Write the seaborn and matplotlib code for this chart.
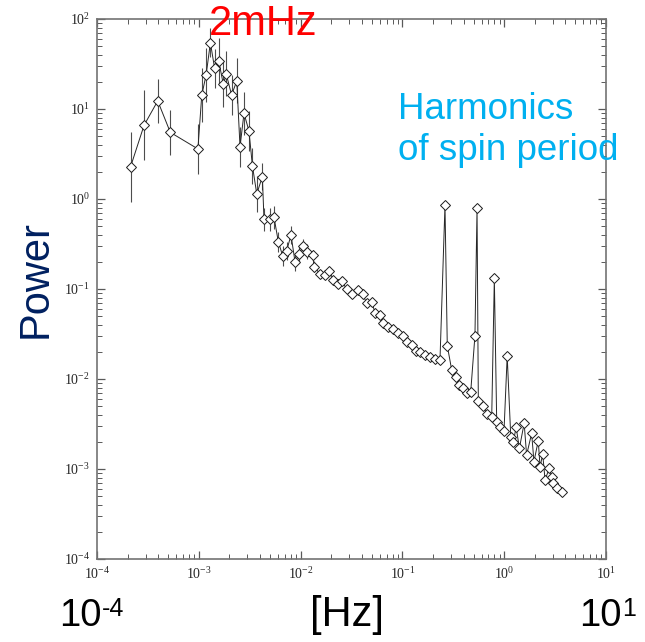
import numpy as np
import pandas as pd
import matplotlib

matplotlib.use("Agg")
import matplotlib.pyplot as plt
import seaborn as sns

# Power spectrum (frequency in Hz)
freq = [
    2.14e-4, 2.90e-4, 3.95e-4, 5.25e-4, 9.8e-4, 1.07e-3, 1.18e-3, 1.30e-3,
    1.43e-3, 1.57e-3, 1.74e-3, 1.86e-3, 2.10e-3, 2.36e-3, 2.54e-3, 2.78e-3,
    3.11e-3, 3.36e-3, 3.71e-3, 4.21e-3, 4.37e-3, 5.00e-3, 5.48e-3, 6.04e-3,
    6.67e-3, 7.30e-3, 8.05e-3, 8.81e-3, 9.70e-3, 1.06e-2, 1.16e-2, 1.31e-2,
    1.36e-2, 1.55e-2, 1.74e-2, 1.90e-2, 2.10e-2, 2.31e-2, 2.53e-2, 2.84e-2,
    3.18e-2, 3.64e-2, 4.07e-2, 4.46e-2, 4.99e-2, 5.38e-2, 6.03e-2, 6.49e-2,
    7.26e-2, 8.14e-2, 9.12e-2, 0.101, 0.110, 0.123, 0.135, 0.149,
    0.167, 0.187, 0.209, 0.234, 0.262, 0.276, 0.305, 0.336,
    0.362, 0.397, 0.434, 0.469, 0.516, 0.541, 0.557, 0.624,
    0.673, 0.754, 0.800, 0.844, 0.910, 0.996, 1.07, 1.16,
    1.23, 1.31, 1.41, 1.57, 1.66, 1.86, 1.96, 2.16,
    2.25, 2.39, 2.52, 2.77, 2.93, 3.04, 3.28, 3.67,
]
power = [
    2.29, 6.6, 12.3, 5.5, 3.6, 14.3, 23.9, 54.6,
    28.3, 34.2, 18.8, 24.5, 14.3, 20.5, 3.8, 8.96,
    5.7, 2.35, 1.14, 1.77, 0.594, 0.594, 0.626, 0.336,
    0.233, 0.267, 0.398, 0.201, 0.245, 0.301, 0.260, 0.239,
    0.177, 0.147, 0.143, 0.160, 0.126, 0.114, 0.124, 0.0993,
    0.0880, 0.0975, 0.0880, 0.0693, 0.0722, 0.0546, 0.0514, 0.0416,
    0.0375, 0.0356, 0.0322, 0.0301, 0.0260, 0.0239, 0.0206, 0.0201,
    0.0185, 0.0174, 0.0166, 0.0163, 0.858, 0.0234, 0.0126, 0.0106,
    0.00858, 0.00788, 0.00694, 0.00723, 0.0303, 0.789, 0.00574, 0.00501,
    0.00409, 0.00381, 0.131, 0.00336, 0.00291, 0.00267, 0.0180, 0.00229,
    0.00201, 0.00291, 0.00170, 0.00322, 0.00143, 0.00249, 0.00121, 0.00206,
    0.00106, 0.00146, 0.000755, 0.00102, 0.000820, 0.000693, 0.000611, 0.000560,
]
# error bar half widths (dex) for the low frequency points
err_dex = [
    0.39, 0.39, 0.24, 0.25, 0.28, 0.30, 0.30, 0.16,
    0.22, 0.25, 0.25, 0.25, 0.22, 0.25, 0.22, 0.24,
    0.22, 0.20, 0.20, 0.15, 0.13, 0.13, 0.13, 0.11,
    0.11, 0.10, 0.10, 0.10, 0.08, 0.08, 0.08, 0.06, 0.06,
]

df = pd.DataFrame({"freq": freq, "power": power})

sns.set_style("ticks")
plt.rcParams["font.family"] = ["Liberation Serif", "DejaVu Serif"]
plt.rcParams["mathtext.fontset"] = "custom"
plt.rcParams["mathtext.rm"] = "Liberation Serif"
plt.rcParams["xtick.direction"] = "in"
plt.rcParams["ytick.direction"] = "in"

fig = plt.figure(figsize=(6.45, 6.42), dpi=100)
ax = fig.add_axes([97 / 645, 1 - 559 / 642, 509 / 645, 540 / 642])
ax.set(xscale="log", yscale="log")

n = len(err_dex)
f_err = np.array(freq[:n])
p_err = np.array(power[:n])
d = np.array(err_dex)
ax.vlines(f_err, p_err * 10 ** (-d), p_err * 10 ** d, color="0.3", lw=0.8, zorder=2)

sns.lineplot(
    data=df,
    x="freq",
    y="power",
    ax=ax,
    sort=False,
    color="0.15",
    lw=0.7,
    marker="D",
    markersize=5.3,
    markerfacecolor="white",
    markeredgecolor="0.1",
    markeredgewidth=0.7,
    zorder=3,
)

ax.set_xlim(1e-4, 1e1)
ax.set_ylim(1e-4, 1e2)
ax.set_xlabel("")
ax.set_ylabel("")
ax.tick_params(which="both", top=True, right=True, labelsize=10, color="0.35")
ax.tick_params(which="major", length=6, width=0.9, pad=5)
ax.tick_params(which="minor", length=3.5, width=0.7)
for s in ax.spines.values():
    s.set_color("0.45")
    s.set_linewidth(1.2)

sans = ["Liberation Sans", "DejaVu Sans"]
fig.text(36 / 645, 1 - 279 / 642, "Power", rotation=90, ha="center", va="center",
         fontsize=30, color="#002060", family=sans)
fig.text(347 / 645, 1 - 615 / 642, "[Hz]", ha="center", va="center",
         fontsize=30, color="black", family=sans)
# big axis end labels, written as base plus raised exponent
fig.text(59 / 645, 1 - 634 / 642, "10", ha="left", va="bottom",
         fontsize=27.5, color="black", family=sans)
fig.text(102 / 645, 1 - 616 / 642, "-4", ha="left", va="baseline",
         fontsize=18, color="black", family=sans)
fig.text(579 / 645, 1 - 634 / 642, "10", ha="left", va="bottom",
         fontsize=27.5, color="black", family=sans)
fig.text(622 / 645, 1 - 616 / 642, "1", ha="left", va="baseline",
         fontsize=18, color="black", family=sans)
fig.text(263 / 645, 1 - 24 / 642, "2mHz", ha="center", va="center",
         fontsize=30, color="#ff0000", family=sans)
fig.text(398 / 645, 1 - 130 / 642, "Harmonics\nof spin period", ha="left", va="center",
         fontsize=26.5, color="#00b0f0", family=sans, linespacing=1.2)

fig.savefig("out.png", dpi=100)
